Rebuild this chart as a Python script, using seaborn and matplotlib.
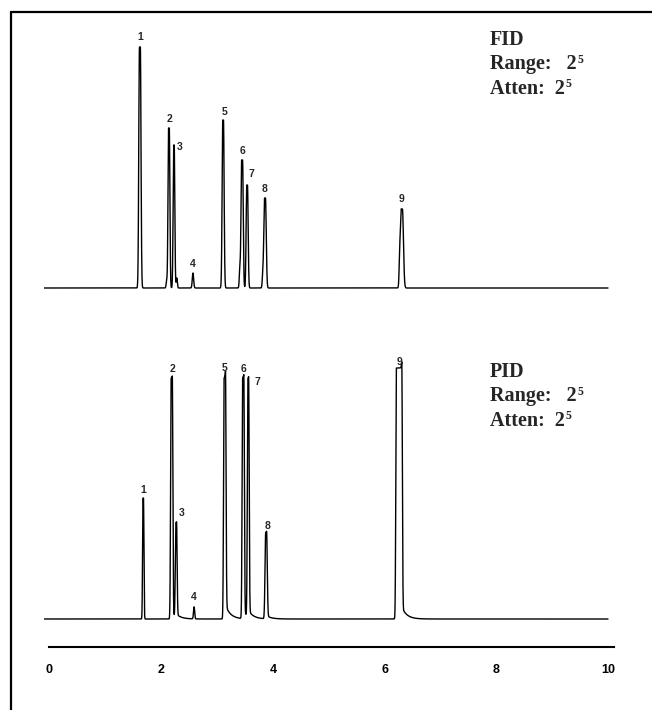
import numpy as np
import pandas as pd
import matplotlib
matplotlib.use("Agg")
import matplotlib.pyplot as plt
import seaborn as sns

# peak numbers and retention times (min) / heights (arbitrary units)
peak_ids = ["1", "2", "3", "4", "5", "6", "7", "8", "9"]

fid_times = [1.62, 2.14, 2.23, 2.57, 3.11, 3.45, 3.54, 3.86, 6.31]
fid_heights = [241, 160, 143, 15, 168, 128, 103, 90, 79]
fid_widths = [0.012, 0.011, 0.011, 0.012, 0.012, 0.012, 0.012, 0.014, 0.018]
fid_flat = [0.008, 0.006, 0.004, 0.0, 0.006, 0.008, 0.006, 0.008, 0.010]

pid_times = [1.68, 2.19, 2.27, 2.59, 3.14, 3.47, 3.56, 3.88, 6.26]
pid_heights = [121, 241, 94, 12, 241, 241, 237, 86, 251]
pid_widths = [0.008, 0.010, 0.010, 0.010, 0.010, 0.010, 0.010, 0.012, 0.010]
pid_flat = [0.004, 0.010, 0.006, 0.0, 0.012, 0.010, 0.006, 0.008, 0.048]
pid_tails = [0, 4, 3, 0, 14, 6, 6, 3, 12]

# small unlabeled bumps
fid_minor_times = [2.10, 2.28, 3.41, 3.82, 6.27]
fid_minor_heights = [7, 10, 20, 12, 20]

tick_values = [0, 2, 4, 6, 8, 10]

# label offsets in pixels (dx, dy) from each peak top
fid_label_offsets = [(0, 10), (1, 9), (6, -2), (0, 9), (1, 8), (0, 9), (4, 11), (0, 9), (0, 10)]
pid_label_offsets = [(0, 8), (1, 9), (5, 12), (0, 10), (0, 10), (0, 9), (9, 0), (1, 7), (0, 6)]

FID_BASE = 359
PID_BASE = 28

t = np.linspace(-0.1, 10.0, 16000)


def trace(times, heights, widths, flats, tails=None, minor_t=(), minor_h=()):
    y = np.zeros_like(t)
    for i, (c, h, s, w) in enumerate(zip(times, heights, widths, flats)):
        d = np.clip(np.abs(t - c) - w, 0, None)
        y += h * np.exp(-0.5 * (d / s) ** 2)
        if tails is not None and tails[i]:
            ramp = 1.0 / (1.0 + np.exp(-(t - c - w) / (s * 0.6)))
            y += tails[i] * np.exp(-np.clip(t - c - w, 0, None) / 0.09) * ramp
    for c, h in zip(minor_t, minor_h):
        y += h * np.exp(-0.5 * ((t - c) / 0.010) ** 2)
    return y


fid = FID_BASE + trace(fid_times, fid_heights, fid_widths, fid_flat, None,
                       fid_minor_times, fid_minor_heights)
pid = PID_BASE + trace(pid_times, pid_heights, pid_widths, pid_flat, pid_tails)

df = pd.concat([
    pd.DataFrame({"time": t, "signal": fid, "detector": "FID"}),
    pd.DataFrame({"time": t, "signal": pid, "detector": "PID"}),
])

sns.set_style("white")
W, H = 652, 710
fig = plt.figure(figsize=(W / 100, H / 100), dpi=100)

px0, scale = 49.4, 55.86
ax_left = px0 - 0.1 * scale
ax = fig.add_axes([ax_left / W, (H - 647) / H, 10.2 * scale / W, 622 / H])

sns.lineplot(data=df, x="time", y="signal", units="detector", estimator=None,
             sort=False, color="black", lw=1.0, ax=ax)

ax.set_xlim(-0.1, 10.1)
ax.set_ylim(0, 622)
ax.set_xlabel("")
ax.set_ylabel("")
ax.set_yticks([])
ax.set_xticks(tick_values)
ax.set_xticklabels([str(v) for v in tick_values], fontfamily="Liberation Sans",
                   fontweight="bold", fontsize=9)
ax.tick_params(axis="x", direction="out", length=5, width=1.4, pad=7, colors="black")
for s in ["top", "right", "left"]:
    ax.spines[s].set_visible(False)
ax.spines["bottom"].set_bounds(0, 10.1)
ax.spines["bottom"].set_linewidth(1.5)
ax.spines["bottom"].set_color("black")
ax.patch.set_alpha(0)

# peak numbers
px_pt = 72 / 100
for base, times, heights, offs in [(FID_BASE, fid_times, fid_heights, fid_label_offsets),
                                   (PID_BASE, pid_times, pid_heights, pid_label_offsets)]:
    for lab, c, h, (dx, dy) in zip(peak_ids, times, heights, offs):
        ax.annotate(lab, (c, base + h), xytext=(dx * px_pt, dy * px_pt),
                    textcoords="offset points", ha="center", va="center",
                    fontfamily="Liberation Sans", fontweight="bold", fontsize=7.5)

# detector settings text
serif = dict(fontfamily="Liberation Serif", fontweight="bold", fontsize=14.5,
             va="baseline", ha="left")
for name, y0 in [("FID", 45), ("PID", 377)]:
    fig.text(490 / W, 1 - y0 / H, name, **serif)
    for txt, dy in [("Range:   2", 24.5), ("Atten:  2", 49)]:
        base_txt = fig.text(490 / W, 1 - (y0 + dy) / H, txt, **serif)
        # superscript exponent
        ax.annotate("5", xy=(1, 0), xycoords=base_txt, xytext=(0.5, 8.5),
                    textcoords="offset points", ha="left", va="baseline",
                    fontfamily="Liberation Serif", fontweight="bold", fontsize=8.5,
                    annotation_clip=False)

# outer frame (top and left edges visible)
fig.add_artist(plt.Line2D([11 / W, 1], [1 - 12 / H, 1 - 12 / H], color="black", lw=1.6))
fig.add_artist(plt.Line2D([11 / W, 11 / W], [0, 1 - 12 / H], color="black", lw=1.6))

fig.savefig("out.png", dpi=100, facecolor="white")
